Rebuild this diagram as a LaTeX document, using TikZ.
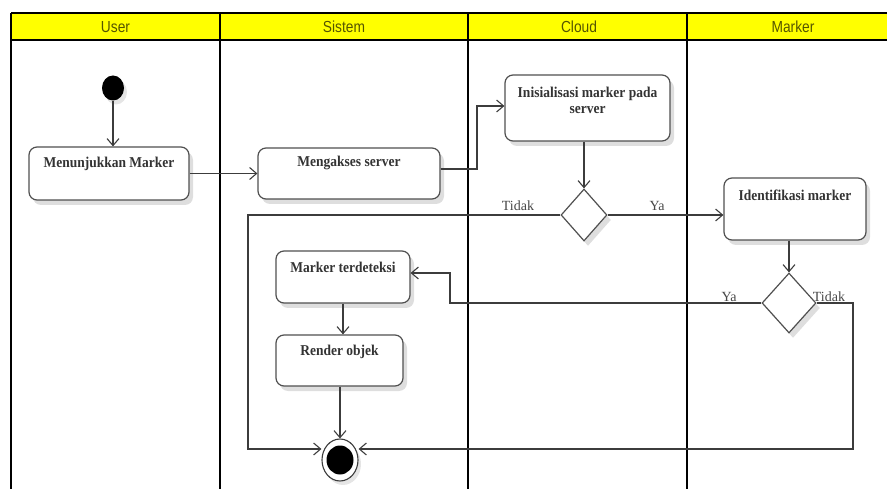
\documentclass[tikz,border=0pt]{standalone}
\usepackage{fontspec}
\setmainfont{Liberation Serif}
\newfontfamily\actfont[FakeStretch=0.9]{Liberation Serif}
\newfontfamily\lanefont[FakeStretch=0.86]{Liberation Sans}
\usetikzlibrary{arrows.meta,shapes.geometric,shadows,calc}

\definecolor{laneyellow}{RGB}{255,255,0}
\definecolor{lanetext}{RGB}{85,85,0}
\definecolor{edgegray}{RGB}{60,60,60}
\definecolor{boxgray}{RGB}{80,80,80}
\definecolor{labelgray}{RGB}{70,70,70}

\tikzset{
  laneline/.style={line width=2pt, black},
  lanehead/.style={font=\lanefont\fontsize{16}{16}\selectfont, text=lanetext},
  actbox/.style={draw=boxgray, line width=1.2pt, rounded corners=8pt, fill=white,
    inner sep=0pt, drop shadow={shadow xshift=4pt, shadow yshift=-5pt, fill=black!13, opacity=1}},
  acttext/.style={font=\actfont\bfseries\fontsize{15}{15.5}\selectfont, text=black!80, align=center, inner sep=0pt},
  choice/.style={diamond, draw=boxgray, line width=1.2pt, fill=white, inner sep=0pt,
    drop shadow={shadow xshift=4pt, shadow yshift=-5pt, fill=black!13, opacity=1}},
  flow/.style={draw=edgegray, line width=1.1pt, -{Straight Barb[length=7pt,width=12pt,line width=1.1pt]}},
  guard/.style={font=\fontsize{14}{14}\selectfont, text=labelgray, inner sep=0pt},
}

\begin{document}
\begin{tikzpicture}[x=1pt, y=-1pt]
\useasboundingbox (0,0) rectangle (887,489);

% swimlane header
\fill[laneyellow] (11,13) rectangle (887,40);
\draw[laneline] (11,13) -- (887,13);
\draw[laneline] (11,40) -- (887,40);
\foreach \xx in {11,220,468,687} { \draw[laneline] (\xx,13) -- (\xx,489); }
\node[lanehead] (hUser)   at (115.5,27) {User};
\node[lanehead] (hSistem) at (344,27)   {Sistem};
\node[lanehead] (hCloud)  at (579,27)   {Cloud};
\node[lanehead] (hMarker) at (793,27)   {Marker};

% initial state
\node[ellipse, fill=black, minimum width=22pt, minimum height=25pt, inner sep=0pt,
      drop shadow={shadow xshift=3pt, shadow yshift=-4pt, fill=black!10, opacity=1}] (start) at (113,88) {};

% activities
\node[actbox, minimum width=160pt, minimum height=53pt] (b1) at (109,173.5) {};
\node[acttext] (t1) at ($(b1.north)+(0,17)$) {Menunjukkan Marker};

\node[actbox, minimum width=182pt, minimum height=51pt] (b2) at (349,173.5) {};
\node[acttext] (t2) at ($(b2.north)+(0,16)$) {Mengakses server};

\node[actbox, minimum width=165pt, minimum height=66pt] (b3) at (587.5,108) {};
\node[acttext] (t3) at ($(b3.north)+(0,26)$) {Inisialisasi marker pada\\server};

\node[actbox, minimum width=142pt, minimum height=62pt] (b4) at (795,209) {};
\node[acttext] (t4) at ($(b4.north)+(0,18)$) {Identifikasi marker};

\node[actbox, minimum width=134pt, minimum height=52pt] (b5) at (343,277) {};
\node[acttext] (t5) at ($(b5.north)+(0,17)$) {Marker terdeteksi};

\node[actbox, minimum width=127pt, minimum height=51pt] (b6) at (339.5,360.5) {};
\node[acttext] (t6) at ($(b6.north)+(0,17)$) {Render objek};

% decisions
\node[choice, minimum width=46pt, minimum height=52pt] (d1) at (584,215) {};
\node[choice, minimum width=54pt, minimum height=60pt] (d2) at (789,303) {};

% final state
\node[ellipse, draw=edgegray, line width=1.1pt, fill=white, minimum width=36pt, minimum height=42pt, inner sep=0pt,
      drop shadow={shadow xshift=3pt, shadow yshift=-4pt, fill=black!10, opacity=1}] (fin) at (340,460) {};
\node[ellipse, fill=black, minimum width=27pt, minimum height=29pt, inner sep=0pt] (finin) at (340,460) {};

% bend points
\coordinate (k1) at (477,169);
\coordinate (k2) at (450,303);
\coordinate (k3) at (450,273);
\coordinate (lc) at (248,449);
\coordinate (rc) at (853,449);

% transitions
\draw[flow] (start.south) -- (start.south |- b1.north);
\draw[flow] (b1.east) -- (b2.west);
\draw[flow] (b2.east |- k1) -- (k1) |- (b3.west |- 0,106);
\draw[flow] (d1.north |- b3.south) -- (d1.north);
\draw[flow] (d1.east) -- (d1.east -| b4.west);
\draw[flow] (d2.north |- b4.south) -- (d2.north);
\draw[flow] (d2.west) -- (k2) -- (k3) -- (k3 -| b5.east);
\draw[flow] (b5.south) -- (b5.south |- b6.north);
\draw[flow] (b6.south -| fin.north) -- (fin.north);
\draw[flow] (d1.west) -| (lc) -- (lc -| fin.west);
\draw[flow] (d2.east) -| (rc) -- (rc -| fin.east);

% guards
\node[guard] (g1) at (518,206) {Tidak};
\node[guard] (g2) at (657,206) {Ya};
\node[guard] (g3) at (729,297) {Ya};
\node[guard] (g4) at (829,297) {Tidak};
\end{tikzpicture}
\end{document}
